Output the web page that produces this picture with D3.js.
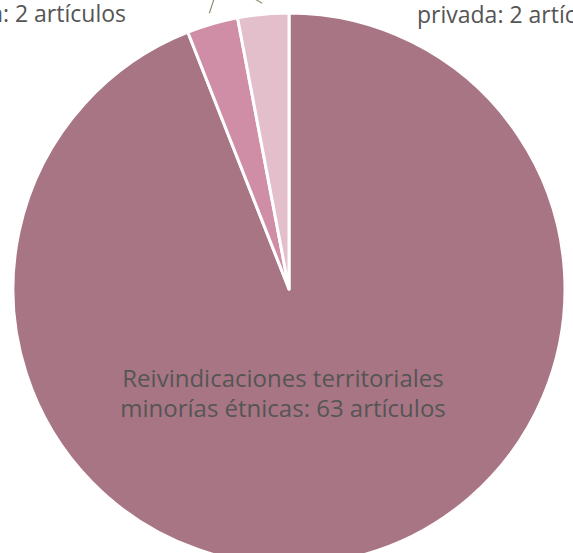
<!DOCTYPE html>
<html>
<head>
<meta charset="utf-8">
<script src="https://cdn.jsdelivr.net/npm/d3@7"></script>
<style>
  html, body { margin: 0; padding: 0; background: #fff; overflow: hidden; }
  svg { display: block; }
  text { font-family: "Open Sans", sans-serif; fill: #555; }
</style>
</head>
<body>
<svg id="chart" width="573" height="553"></svg>
<script>
// Data
const categories = [
  "Reivindicaciones territoriales minorías étnicas",
  "Disputas por tierra colectiva",
  "Conflictos con propiedad privada"
];
const labelLines = [
  ["Reivindicaciones territoriales", "minorías étnicas: 63 artículos"],
  ["Disputas por tierra", "colectiva: 2 artículos"],
  ["Conflictos con propiedad", "privada: 2 artículos"]
];
const values = [63, 2, 2];
const colors = ["#a87584", "#cf8ea5", "#e3bfcb"];

const W = 573, H = 553;
const cx = 289, cy = 289, R = 276;
const FS = 24, FS_OUT = 23;

const svg = d3.select("#chart");
const g = svg.append("g").attr("transform", `translate(${cx},${cy})`);

const pie = d3.pie().sort(null).value(d => d)(values);
const arc = d3.arc().innerRadius(0).outerRadius(R);

g.selectAll("path.slice")
  .data(pie)
  .join("path")
  .attr("class", "slice")
  .attr("d", arc)
  .attr("fill", (d, i) => colors[i])
  .attr("stroke", "#fff")
  .attr("stroke-width", 3)
  .attr("stroke-linejoin", "round");

// Main label inside big slice
const main = g.append("text")
  .attr("text-anchor", "middle")
  .attr("font-size", FS)
  .attr("transform", `translate(${-6},${R * 0.355})`);
labelLines[0].forEach((t, i) => {
  main.append("tspan").attr("x", 0).attr("dy", i === 0 ? 0 : "1.25em").text(t);
});

// Leader lines for small slices (going up out of view)
const mid = d => (d.startAngle + d.endAngle) / 2;
const leaderSlope = [0, 0.33, -1.7];
[1, 2].forEach(i => {
  const a = mid(pie[i]);
  const p0 = [Math.sin(a) * (R + 11), -Math.cos(a) * (R + 11)];
  const rise = 45;
  g.append("polyline")
    .attr("points", [p0, [p0[0] + leaderSlope[i] * rise, p0[1] - rise]].map(q => q.join(",")).join(" "))
    .attr("fill", "none")
    .attr("stroke", "#84937a")
    .attr("stroke-width", 1.2);
});

// Outer labels (second lines visible at the top edge)
const leftLab = svg.append("text")
  .attr("text-anchor", "end")
  .attr("font-size", FS_OUT)
  .attr("x", 126)
  .attr("y", 22);
leftLab.append("tspan").attr("x", 126).attr("dy", "-1.3em").text(labelLines[1][0]);
leftLab.append("tspan").attr("x", 126).attr("dy", "1.3em").text(labelLines[1][1]);

const rightLab = svg.append("text")
  .attr("text-anchor", "start")
  .attr("font-size", FS_OUT)
  .attr("x", 417)
  .attr("y", 23);
rightLab.append("tspan").attr("x", 417).attr("dy", "-1.3em").text(labelLines[2][0]);
rightLab.append("tspan").attr("x", 417).attr("dy", "1.3em").text(labelLines[2][1]);
</script>
</body>
</html>
